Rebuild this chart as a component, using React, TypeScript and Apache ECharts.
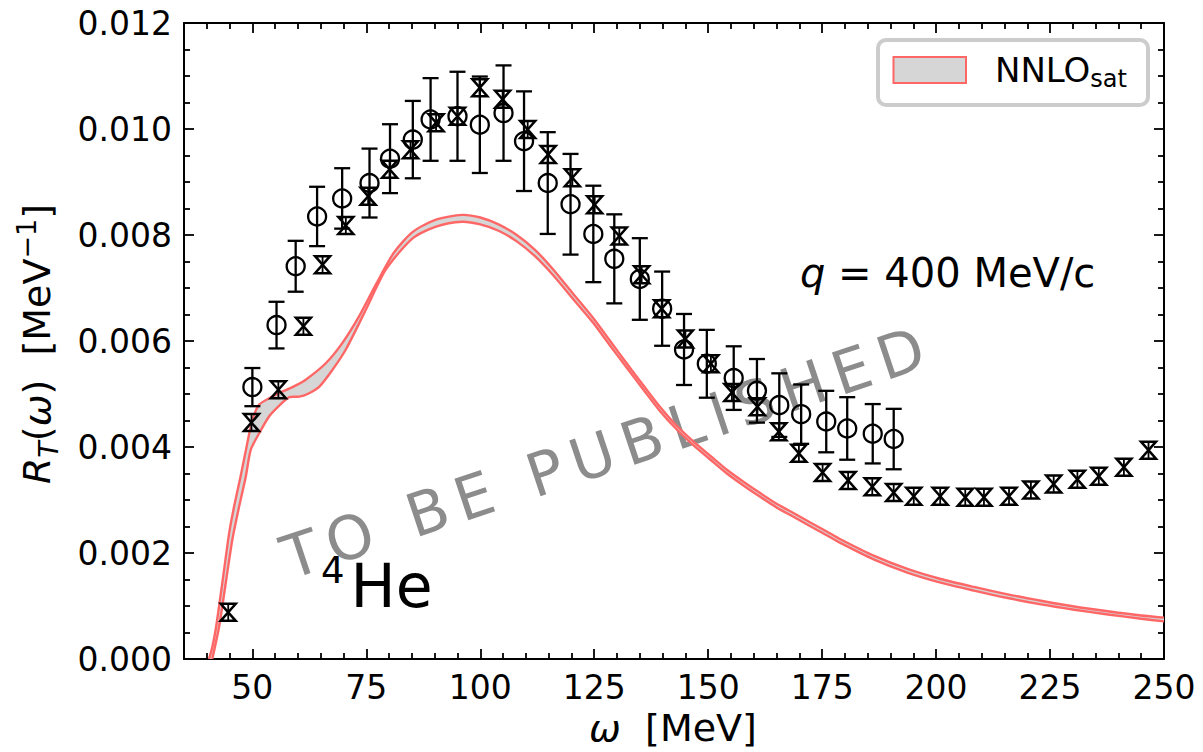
import React, { useEffect, useRef } from 'react';
import * as echarts from 'echarts';

const FONT = 'DejaVu Sans';
const RED = '#ff6666';

// NNLO_sat theory band: upper and lower edges
const bandUpperOmega = [40.5, 41.2, 42.0, 43.4, 44.9, 46.0, 47.4, 48.6, 50.0, 51.5, 53.7, 55.9, 58.8, 61.7, 66.1, 69.8, 73.5, 77, 81, 85.2, 90.3, 96, 100, 104, 108, 112, 116, 120, 124.8, 128.5, 132.1, 135.8, 139.4, 143, 146.8, 150.5, 154.1, 157.8, 161.4, 165, 168.8, 172.5, 176.1, 179, 186.3, 193.7, 201, 208.3, 215.7, 223, 230.3, 237.7, 245, 250];
const bandUpperR = [0, 0.00022, 0.00058, 0.00143, 0.00237, 0.00288, 0.00344, 0.00395, 0.00451, 0.0048, 0.00492, 0.00502, 0.00513, 0.00527, 0.00558, 0.00597, 0.00648, 0.00705, 0.00766, 0.00806, 0.00829, 0.00838, 0.00833, 0.0082, 0.008, 0.00772, 0.00735, 0.00693, 0.00643, 0.006, 0.00558, 0.00516, 0.00476, 0.00441, 0.0041, 0.00383, 0.00357, 0.00334, 0.00313, 0.00293, 0.00275, 0.00257, 0.0024, 0.00226, 0.00195, 0.0017, 0.00151, 0.00136, 0.00122, 0.0011, 0.00099, 0.0009, 0.00082, 0.00078];
const bandLowerOmega = [41.2, 42.7, 44.15, 45.6, 47.1, 48.55, 49.65, 51.5, 53.7, 55.9, 58.1, 60.3, 62.1, 64.7, 67.6, 70.5, 74.9, 79.3, 85.2, 90.3, 96, 100, 104, 108, 112, 116, 120, 124.8, 128.5, 132.1, 135.8, 139.4, 143, 146.8, 150.5, 154.1, 157.8, 161.4, 165, 168.8, 172.5, 176.1, 179, 186.3, 193.7, 201, 208.3, 215.7, 223, 230.3, 237.7, 245, 250];
const bandLowerR = [0, 0.00061, 0.00143, 0.00225, 0.00288, 0.00344, 0.00395, 0.00426, 0.00458, 0.00478, 0.00494, 0.00495, 0.005, 0.00514, 0.00546, 0.00584, 0.00659, 0.00735, 0.00794, 0.00816, 0.00825, 0.0082, 0.00808, 0.00788, 0.0076, 0.00724, 0.00683, 0.00634, 0.00591, 0.0055, 0.00508, 0.00468, 0.00434, 0.00403, 0.00376, 0.0035, 0.00327, 0.00306, 0.00286, 0.00268, 0.0025, 0.00233, 0.00219, 0.00188, 0.00163, 0.00144, 0.00129, 0.00115, 0.00103, 0.00093, 0.00084, 0.00076, 0.00071];

// Experimental set drawn with open circles
const circOmega = [50, 55.3, 59.5, 64.2, 69.7, 75.7, 80.2, 85.2, 89.1, 95.0, 99.9, 105.1, 109.6, 114.8, 119.8, 124.8, 129.4, 135, 139.9, 144.7, 149.7, 155.6, 160.7, 165.6, 170.4, 175.9, 180.5, 186.1, 190.7];
const circR = [0.00513, 0.0063, 0.00741, 0.00835, 0.00869, 0.00898, 0.00944, 0.0098, 0.01018, 0.01024, 0.01008, 0.0103, 0.00977, 0.00898, 0.00858, 0.00802, 0.00755, 0.00717, 0.00661, 0.00584, 0.00557, 0.0053, 0.00506, 0.00479, 0.00462, 0.00448, 0.00435, 0.00425, 0.00415];
const circErr = [0.00036, 0.00044, 0.00048, 0.00056, 0.00057, 0.00065, 0.00065, 0.00073, 0.00078, 0.00084, 0.00091, 0.0009, 0.00094, 0.00096, 0.00095, 0.00091, 0.00084, 0.00077, 0.0007, 0.00067, 0.00064, 0.0006, 0.0006, 0.0006, 0.00056, 0.00058, 0.00059, 0.00056, 0.00057];

// Experimental set drawn with hourglass markers
const hgOmega = [44.7, 49.8, 55.7, 61.2, 65.4, 70.5, 75.4, 80.1, 84.7, 90.3, 95, 99.9, 104.9, 110.4, 114.9, 120.2, 125.1, 130.5, 135.4, 139.8, 145, 150.6, 155.2, 160.8, 165.5, 169.9, 175.1, 180.7, 186, 190.7, 195.1, 200.9, 206.4, 210.5, 216, 220.8, 225.8, 231, 235.7, 241.2, 246.6];
const hgR = [0.00088, 0.00446, 0.00508, 0.00628, 0.00744, 0.00818, 0.00873, 0.00924, 0.00961, 0.01012, 0.01024, 0.01078, 0.01056, 0.00999, 0.00952, 0.00908, 0.00857, 0.00798, 0.00725, 0.00661, 0.00604, 0.00557, 0.00503, 0.00476, 0.00429, 0.00388, 0.00352, 0.00337, 0.00325, 0.00314, 0.00307, 0.00307, 0.00305, 0.00305, 0.00307, 0.00319, 0.0033, 0.00339, 0.00345, 0.00362, 0.00394];
const hgErr = [0.0001, 0.0001, 0.0001, 0.0001, 0.0001, 0.00012, 0.00012, 0.00012, 0.00014, 0.00014, 0.00014, 0.00015, 0.00015, 0.00015, 0.00014, 0.00014, 0.00013, 0.00013, 0.00013, 0.00012, 0.00012, 0.00012, 0.00012, 0.00012, 0.00011, 0.00011, 0.0001, 0.0001, 0.0001, 0.0001, 0.00014, 0.0001, 0.0001, 0.0001, 0.0001, 0.0001, 0.0001, 0.0001, 0.0001, 0.0001, 0.0001];

// Axis ticks
const xMajorTicks = [50, 75, 100, 125, 150, 175, 200, 225, 250];
const xMinorTicks = [35, 40, 45, 55, 60, 65, 70, 80, 85, 90, 95, 105, 110, 115, 120, 130, 135, 140, 145, 155, 160, 165, 170, 180, 185, 190, 195, 205, 210, 215, 220, 230, 235, 240, 245];
const yMajorTicks = [0, 0.002, 0.004, 0.006, 0.008, 0.01, 0.012];
const yMinorTicks = [0.0005, 0.001, 0.0015, 0.0025, 0.003, 0.0035, 0.0045, 0.005, 0.0055, 0.0065, 0.007, 0.0075, 0.0085, 0.009, 0.0095, 0.0105, 0.011, 0.0115];

const X_MIN = 35;
const X_MAX = 250;
const Y_MIN = 0;
const Y_MAX = 0.012;

const WATERMARK = 'TO BE PUBLISHED';

function xAxis(position: string, ticks: number[], len: number, main: boolean, labels: boolean) {
  return {
    type: 'value', min: X_MIN, max: X_MAX, position,
    axisLine: { show: main, onZero: false, lineStyle: { color: '#000', width: 2 } },
    axisTick: { show: true, inside: true, length: len, customValues: ticks, lineStyle: { color: '#000', width: 1.8 } },
    axisLabel: labels
      ? { show: true, customValues: ticks, fontSize: 33, fontFamily: FONT, color: '#000', margin: 12 }
      : { show: false },
    splitLine: { show: false },
  };
}

function yAxis(position: string, ticks: number[], len: number, main: boolean, labels: boolean) {
  return {
    type: 'value', min: Y_MIN, max: Y_MAX, position,
    axisLine: { show: main, onZero: false, lineStyle: { color: '#000', width: 2 } },
    axisTick: { show: true, inside: true, length: len, customValues: ticks, lineStyle: { color: '#000', width: 1.8 } },
    axisLabel: labels
      ? { show: true, customValues: ticks, fontSize: 33, fontFamily: FONT, color: '#000', margin: 12, formatter: (v: number) => v.toFixed(3) }
      : { show: false },
    splitLine: { show: false },
  };
}

// Spaced-out watermark: one text element per character along a rotated baseline
function watermarkGroup() {
  const size = 60;
  const gap = 9.5;
  const ctx = document.createElement('canvas').getContext('2d');
  const chars = WATERMARK.split('');
  let widths = chars.map(() => size * 0.6);
  if (ctx) {
    ctx.font = `${size}px "${FONT}"`;
    widths = chars.map((ch) => ctx.measureText(ch).width);
  }
  const total = widths.reduce((a, b) => a + b, 0) + gap * (chars.length - 1);
  let pos = -total / 2;
  const children: any[] = [];
  chars.forEach((ch, i) => {
    if (ch !== ' ') {
      children.push({
        type: 'text', x: pos, y: 0,
        style: { text: ch, font: `${size}px "${FONT}"`, fill: '#8c8c8c', align: 'left', verticalAlign: 'middle' },
      });
    }
    pos += widths[i] + gap;
  });
  return { type: 'group', x: 603, y: 453, rotation: (18.5 * Math.PI) / 180, z: 1, silent: true, children };
}

export default function App() {
  const ref = useRef<HTMLDivElement>(null);

  useEffect(() => {
    if (!ref.current) return;
    const chart = echarts.init(ref.current, undefined, { renderer: 'svg' });

    const circleData = circOmega.map((w, i) => [w, circR[i], circErr[i]]);
    const hgData = hgOmega.map((w, i) => [w, hgR[i], hgErr[i]]);
    const black = { stroke: '#000', lineWidth: 2.3, fill: 'none' };

    const option: any = {
      animation: false,
      backgroundColor: '#fff',
      grid: { left: 184, right: 39, top: 23, bottom: 93, containLabel: false, outerBoundsMode: 'none' },
      xAxis: [
        xAxis('bottom', xMajorTicks, 10, true, true),
        xAxis('bottom', xMinorTicks, 6, false, false),
        xAxis('top', xMajorTicks, 10, true, false),
        xAxis('top', xMinorTicks, 6, false, false),
      ],
      yAxis: [
        yAxis('left', yMajorTicks, 10, true, true),
        yAxis('left', yMinorTicks, 6, false, false),
        yAxis('right', yMajorTicks, 10, true, false),
        yAxis('right', yMinorTicks, 6, false, false),
      ],
      series: [
        {
          type: 'custom', name: 'band', coordinateSystem: 'cartesian2d', xAxisIndex: 0, yAxisIndex: 0,
          clip: true, silent: true, z: 2,
          data: [[100, 0.005]],
          renderItem: (_p: any, api: any) => {
            const up = bandUpperOmega.map((w, i) => api.coord([w, bandUpperR[i]]));
            const lo = bandLowerOmega.map((w, i) => api.coord([w, bandLowerR[i]]));
            return {
              type: 'group',
              children: [
                { type: 'polygon', shape: { points: up.concat(lo.slice().reverse()), smooth: 0.25 }, style: { fill: '#d6d6d6', stroke: 'none' } },
                { type: 'polyline', shape: { points: up, smooth: 0.25 }, style: { fill: 'none', stroke: RED, lineWidth: 2.4 } },
                { type: 'polyline', shape: { points: lo, smooth: 0.25 }, style: { fill: 'none', stroke: RED, lineWidth: 2.4 } },
              ],
            };
          },
        },
        {
          type: 'custom', name: 'circles', coordinateSystem: 'cartesian2d', xAxisIndex: 0, yAxisIndex: 0,
          clip: false, silent: true, z: 4,
          data: circleData,
          renderItem: (_p: any, api: any) => {
            const w = api.value(0), r = api.value(1), e = api.value(2);
            const c = api.coord([w, r]);
            const t = api.coord([w, r + e]);
            const b = api.coord([w, r - e]);
            const cap = 8;
            return {
              type: 'group',
              children: [
                { type: 'line', shape: { x1: c[0], y1: t[1], x2: c[0], y2: b[1] }, style: black },
                { type: 'line', shape: { x1: c[0] - cap, y1: t[1], x2: c[0] + cap, y2: t[1] }, style: black },
                { type: 'line', shape: { x1: c[0] - cap, y1: b[1], x2: c[0] + cap, y2: b[1] }, style: black },
                { type: 'circle', shape: { cx: c[0], cy: c[1], r: 9 }, style: black },
              ],
            };
          },
        },
        {
          type: 'custom', name: 'hourglass', coordinateSystem: 'cartesian2d', xAxisIndex: 0, yAxisIndex: 0,
          clip: false, silent: true, z: 5,
          data: hgData,
          renderItem: (_p: any, api: any) => {
            const w = api.value(0), r = api.value(1), e = api.value(2);
            const c = api.coord([w, r]);
            const t = api.coord([w, r + e]);
            const b = api.coord([w, r - e]);
            const hw = 7.5, hh = 8.5;
            const top = Math.min(t[1], c[1] - hh);
            const bot = Math.max(b[1], c[1] + hh);
            return {
              type: 'group',
              children: [
                {
                  type: 'polygon',
                  shape: { points: [[c[0] - hw, c[1] - hh], [c[0] + hw, c[1] - hh], [c[0] - hw, c[1] + hh], [c[0] + hw, c[1] + hh]] },
                  style: { fill: 'none', stroke: '#000', lineWidth: 2.5, lineJoin: 'miter' },
                },
                { type: 'line', shape: { x1: c[0], y1: top, x2: c[0], y2: bot }, style: { stroke: '#000', lineWidth: 1.8 } },
              ],
            };
          },
        },
      ],
      graphic: [
        watermarkGroup(),
        // y-axis title
        {
          type: 'text', x: 37, y: 344, rotation: Math.PI / 2, z: 10,
          style: {
            text: '{i|R}{sub|T}{n|(}{i|ω}{n|)  [MeV}{sup|−1}{n|]}',
            align: 'center', verticalAlign: 'middle', fill: '#000',
            rich: {
              i: { fontFamily: FONT, fontSize: 38, fontStyle: 'italic', verticalAlign: 'middle', fill: '#000' },
              n: { fontFamily: FONT, fontSize: 38, verticalAlign: 'middle', fill: '#000' },
              sub: { fontFamily: FONT, fontSize: 27, fontStyle: 'italic', verticalAlign: 'middle', padding: [22, 0, 0, 0], fill: '#000' },
              sup: { fontFamily: FONT, fontSize: 27, verticalAlign: 'middle', padding: [0, 0, 22, 0], fill: '#000' },
            },
          },
        },
        // x-axis title
        {
          type: 'text', x: 673, y: 728, z: 10,
          style: {
            text: '{i|ω}{n|  [MeV]}', align: 'center', verticalAlign: 'middle', fill: '#000',
            rich: {
              i: { fontFamily: FONT, fontSize: 38, fontStyle: 'italic', verticalAlign: 'middle', fill: '#000' },
              n: { fontFamily: FONT, fontSize: 38, verticalAlign: 'middle', fill: '#000' },
            },
          },
        },
        // momentum transfer
        {
          type: 'text', x: 800, y: 273, z: 10,
          style: {
            text: '{i|q}{n| = 400 MeV/c}', align: 'left', verticalAlign: 'middle', fill: '#000',
            rich: {
              i: { fontFamily: FONT, fontSize: 40, fontStyle: 'italic', verticalAlign: 'middle', fill: '#000' },
              n: { fontFamily: FONT, fontSize: 40, verticalAlign: 'middle', fill: '#000' },
            },
          },
        },
        // nucleus
        {
          type: 'text', x: 321, y: 586, z: 10,
          style: {
            text: '{s|4}{h|He}', align: 'left', verticalAlign: 'middle', fill: '#000',
            rich: {
              s: { fontFamily: FONT, fontSize: 37, verticalAlign: 'middle', padding: [0, 0, 31, 0], fill: '#000' },
              h: { fontFamily: FONT, fontSize: 60, verticalAlign: 'middle', padding: [0, 0, 0, 6], fill: '#000' },
            },
          },
        },
        // legend
        {
          type: 'rect', z: 10,
          shape: { x: 878, y: 40, width: 270, height: 65, r: 8 },
          style: { fill: '#fff', stroke: '#cccccc', lineWidth: 4 },
        },
        {
          type: 'rect', z: 11,
          shape: { x: 893.5, y: 57, width: 72.5, height: 26 },
          style: { fill: '#d6d6d6', stroke: RED, lineWidth: 2 },
        },
        {
          type: 'text', x: 995, y: 69.5, z: 11,
          style: {
            text: '{a|NNLO}{b|sat}', align: 'left', verticalAlign: 'middle', fill: '#000',
            rich: {
              a: { fontFamily: FONT, fontSize: 34, verticalAlign: 'middle', fill: '#000' },
              b: { fontFamily: FONT, fontSize: 24, verticalAlign: 'middle', padding: [18, 0, 0, 0], fill: '#000' },
            },
          },
        },
      ],
    };

    chart.setOption(option);
    return () => chart.dispose();
  }, []);

  return <div ref={ref} style={{ position: 'absolute', left: 0, top: 0, width: 1203, height: 752 }} />;
}
